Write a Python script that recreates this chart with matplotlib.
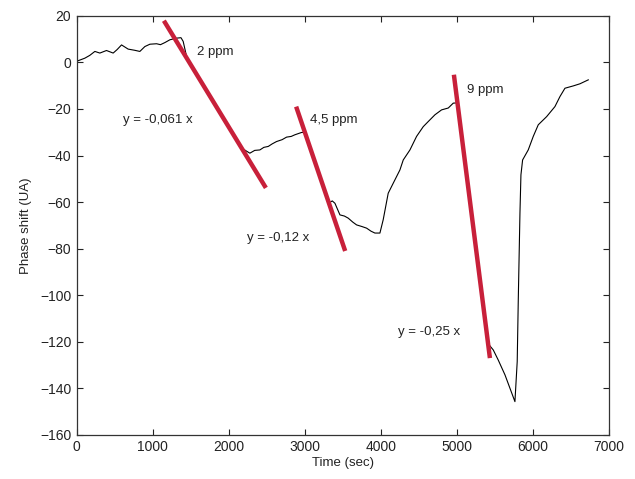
import matplotlib
matplotlib.use('Agg')
import matplotlib.pyplot as plt

plt.rcParams['font.family'] = ['Liberation Sans', 'DejaVu Sans']

# trace mesuree (temps en s, dephasage en UA)
time_sec = [0, 105, 170, 237, 303, 390, 478, 530, 588, 675, 760, 829, 895, 961, 1049, 1100, 1158, 1224, 1311, 1370, 1399,
            1450, 1800, 2100, 2167, 2276, 2340, 2408, 2460, 2518, 2570, 2627, 2700, 2759, 2820, 2868, 2956,
            3000, 3100, 3250, 3320, 3360, 3395, 3461, 3520, 3570, 3630, 3680, 3750, 3812, 3870, 3921, 3987,
            4030, 4096, 4162, 4250, 4294, 4382, 4469, 4557, 4623, 4711, 4798, 4886, 4952,
            5007, 5200, 5410, 5478, 5543, 5632, 5697, 5763, 5793, 5807, 5829, 5842,
            5864, 5938, 6004, 6070, 6180, 6289, 6355, 6421, 6531, 6618, 6728]
phase = [0.5, 1.8, 3.0, 4.7, 4.0, 5.1, 4.0, 5.5, 7.5, 5.7, 5.2, 4.7, 6.8, 7.8, 8.0, 7.6, 8.5, 9.7, 10.4, 10.6, 9.0,
         1.6, -17.1, -33.2, -36.8, -39.0, -37.8, -37.6, -36.5, -36.1, -35.0, -34.0, -33.2, -32.1, -31.8, -31.1, -30.1,
         -30.1, -39.7, -54.1, -60.3, -59.5, -60.5, -65.5, -66.0, -66.9, -68.6, -69.8, -70.5, -71.2, -72.5, -73.3, -73.3,
         -67.6, -56.2, -51.9, -46.2, -41.9, -37.6, -31.8, -27.6, -25.4, -22.5, -20.4, -19.6, -17.5,
         -17.4, -66.9, -120.8, -123.5, -127.8, -134.2, -139.9, -145.7, -128.5, -102.0, -64.8, -48.3,
         -41.9, -37.6, -31.8, -26.8, -23.3, -19.0, -14.7, -11.1, -10.1, -9.2, -7.5]

# droites de pente
fit_x = [[1145, 2487], [2885, 3530], [4960, 5434]]
fit_y = [[17.9, -53.9], [-19.0, -81.0], [-5.3, -127.0]]

# annotations
labels = ['2 ppm', 'y = -0,061 x', '4,5 ppm', 'y = -0,12 x', '9 ppm', 'y = -0,25 x']
label_x = [1580, 605, 3066, 2237, 5132, 4224]
label_y = [4.5, -24.7, -24.7, -75.4, -11.8, -115.7]

fig = plt.figure(figsize=(6.35, 4.79), dpi=100)
ax = fig.add_axes([0.121, 0.092, 0.838, 0.875])

ax.plot(time_sec, phase, color='black', lw=0.8, zorder=2)
for fx, fy in zip(fit_x, fit_y):
    ax.plot(fx, fy, color='#c8203a', lw=3.2, solid_capstyle='butt', zorder=3)

for t, lx, ly in zip(labels, label_x, label_y):
    ax.text(lx, ly, t, fontsize=9.5, color='#222222', ha='left', va='center', zorder=4)

ax.set_xlim(0, 7000)
ax.set_ylim(-160, 20)
ax.set_xticks(range(0, 7001, 1000))
ax.set_yticks(range(-160, 21, 20))
ax.tick_params(direction='in', top=True, right=True, length=4, width=0.8,
               labelsize=10, colors='#222222', pad=4)
for s in ax.spines.values():
    s.set_color('#333333')
    s.set_linewidth(0.9)

ax.set_xlabel('Time (sec)', fontsize=9.5, color='#222222', labelpad=2)
ax.set_ylabel('Phase shift (UA)', fontsize=9.5, color='#222222', labelpad=6)

fig.savefig('out.png', dpi=100)
